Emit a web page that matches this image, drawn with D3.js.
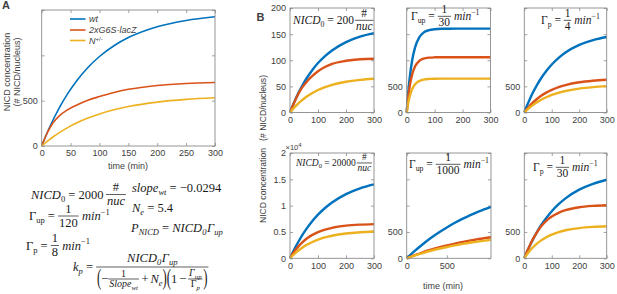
<!DOCTYPE html>
<html>
<head>
<meta charset="utf-8">
<script src="https://cdn.jsdelivr.net/npm/d3@7"></script>
<style>
  body { margin: 0; background: #fff; }
  svg text { font-family: "Liberation Sans", Arial, sans-serif; fill: #404040; }
  .m text { font-family: "Liberation Serif", "DejaVu Serif", serif; fill: #1a1a1a; }
</style>
</head>
<body>
<script>
// Series names and colours (MATLAB defaults)
const seriesNames = ['wt', '2xG6S-lacZ', 'N']
const colors = ['#0072BD', '#D95319', '#EDB120']

// Time points (min)
const timeStd = [0, 10, 20, 30, 45, 60, 80, 100, 125, 150, 200, 250, 300]
const timeFast = [0, 5, 10, 20, 30, 45, 60, 80, 100, 125, 150, 200, 250, 300]
const timeLong = [0, 100, 200, 300, 400, 500, 600, 700, 800, 900, 1050]

// Panel A (NICD0 = 2000)
const aWt = [0, 154, 292, 416, 577, 715, 866, 987, 1106, 1196, 1316, 1385, 1425]
const aLacZ = [0, 150, 260, 330, 400, 450, 505, 545, 590, 625, 668, 690, 700]
const aNhet = [0, 53, 102, 145, 203, 253, 308, 354, 400, 435, 484, 514, 532]

// Panel B, top row
const b1Wt = [0, 13.4, 25.8, 37.1, 52.5, 66, 81.4, 94.6, 108, 118.8, 134.8, 145.3, 152]
const b1LacZ = [0, 13, 25, 36, 49, 59, 70, 79, 87, 93, 99, 102, 103]
const b1Nhet = [0, 6.5, 12.3, 17.6, 24.3, 30.7, 37.4, 43, 48.5, 52.8, 58.8, 62.4, 64.6]

const b2Wt = [0, 355, 631, 1015, 1247, 1437, 1529, 1575, 1594, 1602, 1604, 1605, 1605, 1605]
const b2LacZ = [0, 274, 477, 740, 883, 987, 1029, 1050, 1056, 1058, 1058, 1058, 1058, 1058]
const b2Nhet = [0, 168, 292, 453, 541, 604, 630, 643, 647, 648, 648, 648, 648, 648]

const b3Wt = [0, 133, 255, 367, 516, 646, 795, 919, 1046, 1148, 1294, 1387, 1446]
const b3LacZ = [0, 68, 128, 183, 253, 314, 380, 434, 486, 525, 578, 608, 626]
const b3Nhet = [0, 50, 96, 137, 192, 239, 292, 335, 378, 412, 458, 486, 504]

// Panel B, bottom row
const b4Wt = [0, 1140, 2180, 3150, 4500, 5680, 7080, 8290, 9550, 10600, 12200, 13300, 14050]
const b4LacZ = [0, 860, 1610, 2260, 3080, 3750, 4450, 4970, 5450, 5790, 6200, 6400, 6500]
const b4Nhet = [0, 550, 1040, 1490, 2070, 2560, 3100, 3530, 3960, 4280, 4710, 4960, 5100]

const b5Wt = [0, 140, 268, 385, 490, 586, 674, 753, 825, 891, 978]
const b5LacZ = [0, 60, 114, 162, 206, 245, 280, 312, 341, 367, 401]
const b5Nhet = [0, 53, 100, 143, 181, 215, 246, 274, 299, 321, 351]

const b6Wt = [0, 124, 238, 345, 488, 618, 766, 894, 1028, 1139, 1304, 1415, 1492]
const b6LacZ = [0, 128, 244, 350, 485, 600, 713, 793, 864, 913, 969, 996, 1009]
const b6Nhet = [0, 76, 142, 200, 275, 336, 401, 451, 498, 532, 574, 596, 608]

const W = 617, H = 294
const svg = d3.select('body').append('svg').attr('width', W).attr('height', H)

// Axes configs
const axesList = [
  {box: [41.7, 215, 10, 146], x: [0, 300], y: [0, 1500], xt: [0, 50, 100, 150, 200, 250, 300], yt: [0, 500, 1000, 1500], ylab: [0, 500],
   time: timeStd, series: [aWt, aLacZ, aNhet], lw: 1.6},
  {box: [290, 374, 8, 112.5], x: [0, 300], y: [0, 200], xt: [0, 100, 200, 300], yt: [0, 50, 100, 150, 200], ylab: [0, 50, 100, 150, 200],
   time: timeStd, series: [b1Wt, b1LacZ, b1Nhet], lw: 2.4},
  {box: [406.7, 490.5, 8, 112.5], x: [0, 300], y: [0, 2000], xt: [0, 100, 200, 300], yt: [0, 500, 1000, 1500, 2000], ylab: [0, 500],
   time: timeFast, series: [b2Wt, b2LacZ, b2Nhet], lw: 2.4},
  {box: [524.3, 606.7, 8, 112.5], x: [0, 300], y: [0, 2000], xt: [0, 100, 200, 300], yt: [0, 500, 1000, 1500, 2000], ylab: [0, 500],
   time: timeStd, series: [b3Wt, b3LacZ, b3Nhet], lw: 2.4},
  {box: [290, 374, 153, 258.3], x: [0, 300], y: [0, 20000], xt: [0, 100, 200, 300], yt: [0, 5000, 10000, 15000, 20000], ylab: [0, 5000, 10000, 15000, 20000],
   yfmt: d => d3.format('~g')(d / 1e4), time: timeStd, series: [b4Wt, b4LacZ, b4Nhet], lw: 2.4},
  {box: [406.7, 491, 153, 258.3], x: [0, 1050], y: [0, 2000], xt: [0, 500], yt: [0, 500, 1000, 1500, 2000], ylab: [0, 500],
   time: timeLong, series: [b5Wt, b5LacZ, b5Nhet], lw: 2.4},
  {box: [524.3, 606.7, 153, 258.3], x: [0, 300], y: [0, 2000], xt: [0, 100, 200, 300], yt: [0, 500, 1000, 1500, 2000], ylab: [0, 500],
   time: timeStd, series: [b6Wt, b6LacZ, b6Nhet], lw: 2.4}
]

axesList.forEach(a => {
  const [x0, x1, y0, y1] = a.box
  const xScale = d3.scaleLinear().domain(a.x).range([x0, x1])
  const yScale = d3.scaleLinear().domain(a.y).range([y1, y0])
  const g = svg.append('g')

  // ticks inside, MATLAB style
  g.append('g').attr('transform', `translate(0,${y1})`)
    .call(d3.axisBottom(xScale).tickValues(a.xt).tickSize(-3).tickPadding(4))
  g.append('g').attr('transform', `translate(${x0},0)`)
    .call(d3.axisLeft(yScale).tickValues(a.yt).tickSize(-3).tickPadding(4)
      .tickFormat(d => a.ylab.includes(d) ? (a.yfmt ? a.yfmt(d) : d) : ''))
  g.append('g').attr('transform', `translate(0,${y0})`)
    .call(d3.axisTop(xScale).tickValues(a.xt).tickSize(-3).tickFormat(''))
  g.append('g').attr('transform', `translate(${x1},0)`)
    .call(d3.axisRight(yScale).tickValues(a.yt).tickSize(-3).tickFormat(''))
  g.selectAll('.domain').remove()
  g.selectAll('.tick line').attr('stroke', '#8a8a8a').attr('stroke-width', 0.8)
  g.selectAll('.tick text').style('font-size', '9px').attr('fill', '#404040')

  const line = d3.line().curve(d3.curveMonotoneX)
    .x(d => xScale(d[0])).y(d => yScale(d[1]))
  a.series.forEach((s, i) => {
    g.append('path').datum(a.time.map((t, j) => [t, s[j]]))
      .attr('d', line).attr('fill', 'none')
      .attr('stroke', colors[i]).attr('stroke-width', a.lw)
  })

  g.append('rect').attr('x', x0).attr('y', y0).attr('width', x1 - x0).attr('height', y1 - y0)
    .attr('fill', 'none').attr('stroke', '#8a8a8a').attr('stroke-width', 0.9)
})

// Panel letters
svg.append('text').attr('x', 2).attr('y', 9).style('font-size', '11px').style('font-weight', 'bold').attr('fill', '#000').text('A')
svg.append('text').attr('x', 256.5).attr('y', 20.5).style('font-size', '11px').style('font-weight', 'bold').attr('fill', '#000').text('B')

// Axis labels, panel A
svg.append('text').attr('transform', 'translate(6.5,72) rotate(-90)').attr('dy', '0.35em')
  .style('text-anchor', 'middle').style('font-size', '9px').text('NICD concentration')
svg.append('text').attr('transform', 'translate(17,72) rotate(-90)').attr('dy', '0.35em')
  .style('text-anchor', 'middle').style('font-size', '9px').text('(# NICD/nucleus)')
svg.append('text').attr('x', 128).attr('y', 169).style('text-anchor', 'middle').style('font-size', '9px').text('time (min)')

// Axis labels, panel B
svg.append('text').attr('transform', 'translate(262.5,149) rotate(-90)').attr('dy', '0.35em')
  .style('text-anchor', 'middle').style('font-size', '8.6px').style('white-space', 'pre')
  .text('NICD concentration   (# NICD/nucleus)')
svg.append('text').attr('x', 443).attr('y', 289).style('text-anchor', 'middle').style('font-size', '9px').text('time (min)')

// x10^4 multiplier
const mult = svg.append('text').attr('x', 285.5).attr('y', 149.5).style('font-size', '7.5px')
mult.append('tspan').text('×10')
mult.append('tspan').attr('dy', -3).style('font-size', '6px').text('4')

// Legend, panel A
const legY = [19, 30, 40.5]
seriesNames.forEach((n, i) => {
  svg.append('line').attr('x1', 70).attr('x2', 85.5).attr('y1', legY[i]).attr('y2', legY[i])
    .attr('stroke', colors[i]).attr('stroke-width', 1.6)
  const t = svg.append('text').attr('x', 89).attr('y', legY[i]).attr('dy', '0.35em')
    .style('font-size', '9px').style('font-style', 'italic').attr('fill', '#555')
  if (i === 2) {
    t.append('tspan').text(n)
    t.append('tspan').attr('dy', -3).style('font-size', '6px').style('font-style', 'normal').text('+/-')
  } else {
    t.text(n)
  }
})

// ---- Math text helpers ----
const it = s => ({s: s, it: true})
const rm = s => ({s: s})
const sb = (s, i = true) => ({sub: s, it: i})
const sp = s => ({sup: s})
const par = s => ({s: s, scale: 1.85, sx: 0.55, dy: 0.16})

function mathRow(g, tokens, fs) {
  let cx = 0
  tokens.forEach(tk => {
    if (typeof tk === 'number') { cx += tk * fs; return }
    if (tk.frac) {
      const ffs = tk.ffs || fs
      const gn = g.append('g'), gd = g.append('g')
      const wn = mathRow(gn, tk.frac[0], ffs)
      const wd = mathRow(gd, tk.frac[1], ffs)
      const w = Math.max(wn, wd) + 0.15 * fs
      const ly = -0.32 * fs
      gn.attr('transform', `translate(${cx + (w - wn) / 2},${ly - (tk.nd || 0.26) * fs})`)
      gd.attr('transform', `translate(${cx + (w - wd) / 2},${ly + (tk.dd || 0.86) * fs})`)
      g.append('line').attr('x1', cx).attr('x2', cx + w).attr('y1', ly).attr('y2', ly)
        .attr('stroke', '#1a1a1a').attr('stroke-width', 0.7)
      cx += w + 0.06 * fs
      return
    }
    const small = tk.sub !== undefined || tk.sup !== undefined
    const txt = tk.sub !== undefined ? tk.sub : (tk.sup !== undefined ? tk.sup : tk.s)
    let y = tk.sub !== undefined ? 0.25 * fs : (tk.sup !== undefined ? -0.42 * fs : 0)
    if (tk.dy) y += tk.dy * fs
    const sx = tk.sx || 1
    const t = g.append('text').attr('transform', `translate(${cx},${y}) scale(${sx},1)`)
      .style('font-size', (small ? 0.68 : 1) * fs * (tk.scale || 1) + 'px')
      .style('font-style', tk.it ? 'italic' : 'normal')
      .text(txt)
    cx += t.node().getComputedTextLength() * sx
  })
  return cx
}

function eq(x, y, tokens, fs) {
  const g = svg.append('g').attr('class', 'm').attr('transform', `translate(${x},${y})`)
  return mathRow(g, tokens, fs)
}

const EQ = 0.25
const gup = [rm('Γ'), sb('up', false)]
const gp = [rm('Γ'), sb('p', false)]

// Equations under panel A
eq(31, 198.5, [it('NICD'), sb('0', false), EQ, rm('='), EQ, rm('2000'), 0.2, {frac: [[rm('#')], [it('nuc')]]}], 12.5)
eq(132, 191.5, [it('slope'), sb('wt'), EQ, rm('='), EQ, rm('−0.0294')], 12.5)
eq(29, 220, [...gup, EQ, rm('='), EQ, {frac: [[rm('1')], [rm('120')]]}, 0.2, it('min'), sp('−1')], 12.5)
eq(132, 211.5, [it('N'), sb('e'), EQ, rm('='), EQ, rm('5.4')], 12.5)
eq(131, 232, [it('P'), sb('NICD'), EQ, rm('='), EQ, it('NICD'), sb('0'), 0.05, it('Γ'), sb('up')], 12.5)
eq(26, 249.5, [...gp, EQ, rm('='), EQ, {frac: [[rm('1')], [rm('8')]]}, 0.2, it('min'), sp('−1')], 12.5)
eq(73, 271, [it('k'), sb('p'), EQ, rm('='), EQ, {frac: [
  [it('NICD'), sb('0'), 0.05, it('Γ'), sb('up')],
  [par('('), rm('−'), {frac: [[rm('1')], [it('Slope'), sb('wt')]], ffs: 10, nd: 0.18, dd: 0.64}, 0.15, rm('+'), 0.15, it('N'), sb('e'), par(')'),
   par('('), rm('1'), 0.15, rm('−'), 0.15, {frac: [[it('Γ'), sb('up')], [rm('Γ'), sb('p')]], ffs: 10, nd: 0.22, dd: 0.66}, par(')')]
], nd: 0.4, dd: 1.28}], 12.5)

// Annotations inside panel B
eq(293, 24, [it('NICD'), sb('0', false), EQ, rm('='), EQ, rm('200'), 0.1, {frac: [[rm('#')], [it('nuc')]]}], 11.5)
eq(411, 20, [...gup, EQ, rm('='), EQ, {frac: [[rm('1')], [rm('30')]]}, 0.2, it('min'), sp('−1')], 11.5)
eq(541, 24, [...gp, EQ, rm('='), EQ, {frac: [[rm('1')], [rm('4')]]}, 0.2, it('min'), sp('−1')], 11.5)
eq(296, 166, [it('NICD'), sb('0', false), EQ, rm('='), EQ, rm('20000'), 0.1, {frac: [[rm('#')], [it('nuc')]]}], 9.5)
eq(409, 168, [...gup, EQ, rm('='), EQ, {frac: [[rm('1')], [rm('1000')]]}, 0.2, it('min'), sp('−1')], 11.5)
eq(533, 171, [...gp, EQ, rm('='), EQ, {frac: [[rm('1')], [rm('30')]]}, 0.2, it('min'), sp('−1')], 11.5)
</script>
</body>
</html>
